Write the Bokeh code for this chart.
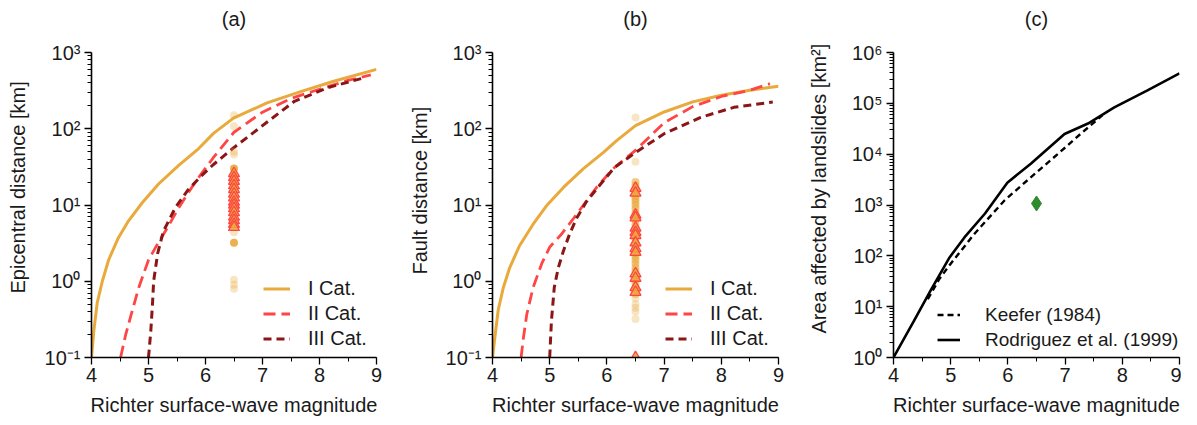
from bokeh.plotting import figure
from bokeh.layouts import row
from bokeh.models import (Range1d, SingleIntervalTicker, FixedTicker, CustomJSTickFormatter,
                          Legend, LegendItem, Title)
from bokeh.embed import file_html
from bokeh.resources import INLINE

FONT = "Liberation Sans"
C_I = "#E9A93B"
C_II = "#FF4545"
C_III = "#8B1616"
C_GREEN = "#2E8B2E"
TXT = "#1a1a1a"

# ---------------- data ----------------
# (a) epicentral distance [km]
a_mag_I = [4.0, 4.04, 4.1, 4.19, 4.3, 4.47, 4.65, 4.89, 5.18, 5.53, 5.88, 6.14, 6.49, 7.08, 7.67, 8.25, 9.0]
a_dist_I = [0.1, 0.22, 0.52, 1.0, 1.9, 3.7, 6.2, 10.7, 19, 33, 55, 87, 138, 218, 307, 420, 600]
a_mag_II = [4.51, 4.6, 4.68, 4.83, 5.0, 5.16, 5.33, 5.53, 5.82, 6.14, 6.5, 7.0, 7.5, 8.0, 8.5, 8.9]
a_dist_II = [0.1, 0.2, 0.33, 0.83, 1.9, 3.1, 5.0, 9.2, 20, 42, 90, 165, 250, 330, 430, 510]
a_mag_III = [5.0, 5.04, 5.07, 5.09, 5.16, 5.26, 5.47, 5.7, 5.95, 6.14, 6.49, 6.98, 7.56, 8.15, 8.8]
a_dist_III = [0.1, 0.22, 0.5, 1.0, 2.3, 4.5, 9.2, 16, 25, 34, 56, 107, 229, 347, 470]

# (b) fault distance [km]
b_mag_I = [4.0, 4.04, 4.1, 4.19, 4.3, 4.47, 4.71, 4.94, 5.24, 5.59, 5.94, 6.17, 6.5, 7.0, 7.5, 8.0, 8.5, 9.0]
b_dist_I = [0.1, 0.18, 0.42, 0.83, 1.5, 2.9, 5.6, 9.7, 17, 30, 49, 70, 110, 166, 225, 275, 320, 360]
b_mag_II = [4.5, 4.54, 4.6, 4.71, 4.86, 5.0, 5.2, 5.42, 5.59, 5.82, 6.11, 6.5, 7.0, 7.5, 8.0, 8.5, 8.85]
b_dist_II = [0.1, 0.18, 0.37, 0.83, 1.7, 2.8, 4.1, 6.7, 10, 17, 30, 52, 120, 195, 265, 320, 390]
b_mag_III = [5.0, 5.03, 5.08, 5.15, 5.24, 5.35, 5.47, 5.64, 5.87, 6.13, 6.47, 7.0, 7.64, 8.22, 8.9]
b_dist_III = [0.1, 0.3, 0.83, 1.5, 2.5, 4.2, 6.7, 11, 18, 31, 47, 86, 141, 191, 224]

# events (all M = 6.5)
ev_mag = 6.5
a_ev_faint = [150, 108, 50, 46, 4.4, 1.05, 0.9, 0.8]
a_ev_solid = [30, 3.2, 24, 19, 15, 12, 9.5, 7.5, 6]
a_ev_tri = [26, 23, 20.5, 18, 16, 14, 12.5, 11, 10, 9, 8, 7, 6.3, 5.6, 5.1]
b_ev_faint = [140, 37, 0.6, 0.5, 0.45, 0.4, 0.32]
b_ev_mid = [20, 18, 16, 15, 13, 12, 11, 10, 9, 8, 7, 6.3, 5.6, 5, 4.5, 4, 3.6, 3.2, 2.9, 2.6,
            2.3, 2.1, 1.9, 1.7, 1.5, 1.35, 1.2, 1.05, 0.95, 0.85, 0.75, 0.68]
b_ev_tri = [16.6, 14.4, 7.4, 6.8, 5.0, 4.4, 4.0, 3.2, 2.7, 2.4, 1.26, 1.1, 0.83, 0.72, 0.1]

# (c) area affected by landslides [km2]
c_mag_rod = [4.0, 4.36, 4.65, 4.98, 5.24, 5.6, 5.99, 6.4, 6.99, 7.4, 7.86, 8.44, 9.0]
c_area_rod = [1, 5.3, 21, 93, 230, 680, 2750, 6500, 25000, 40000, 83000, 180000, 390000]
c_mag_kee = [4.6, 4.8, 5.0, 5.42, 5.94, 6.4, 6.87, 7.27, 7.65]
c_area_kee = [14, 35, 70, 275, 1230, 3500, 10000, 25000, 58000]
c_ev_area = [1070]

exps_ab = [-1, 0, 1, 2, 3]
exps_c = [0, 1, 2, 3, 4, 5, 6]

SUP = CustomJSTickFormatter(code="""
const s = {'0':'\u2070','1':'\u00b9','2':'\u00b2','3':'\u00b3','4':'\u2074','5':'\u2075',
           '6':'\u2076','7':'\u2077','8':'\u2078','9':'\u2079','-':'\u207b'};
const e = Math.round(Math.log10(tick));
return '10' + String(e).split('').map(c => s[c]).join('');
""")

H = 420
TOP = 52
FRAME_H = 305


def make_fig(title, ylabel, exps, w, left, right, y_off, y_standoff):
    p = figure(width=w, height=H, y_axis_type="log",
               x_range=Range1d(4, 9), y_range=Range1d(10 ** exps[0], 10 ** exps[-1]),
               output_backend="svg", toolbar_location=None,
               min_border_left=left, min_border_right=right,
               min_border_top=TOP, min_border_bottom=H - TOP - FRAME_H)
    # a trailing empty line lifts the panel title to the top of the margin
    p.title.text = title + "\n"
    p.title.align = "center"
    p.title.text_font = FONT
    p.title.text_font_size = "20px"
    p.title.text_font_style = "normal"
    p.title.text_color = TXT
    p.title.standoff = 2
    p.outline_line_color = None
    p.grid.visible = False
    p.background_fill_color = "white"
    p.xaxis.ticker = SingleIntervalTicker(interval=1, num_minor_ticks=2)
    p.yaxis.ticker = FixedTicker(ticks=[10.0 ** e for e in exps],
                                 minor_ticks=[m * 10.0 ** e for e in exps[:-1] for m in range(2, 10)])
    p.yaxis.formatter = SUP
    p.xaxis.axis_label = "Richter surface-wave magnitude"
    for ax in (p.xaxis, p.yaxis):
        ax.axis_line_width = 1.6
        ax.axis_line_color = "black"
        ax.major_tick_line_color = "black"
        ax.minor_tick_line_color = "black"
        ax.major_tick_line_width = 1.3
        ax.minor_tick_line_width = 1.0
        ax.major_tick_out = 7
        ax.major_tick_in = 0
        ax.minor_tick_out = 4
        ax.minor_tick_in = 0
        ax.major_label_text_font = FONT
        ax.major_label_text_font_size = "20px"
        ax.major_label_text_color = TXT
        ax.axis_label_text_font = FONT
        ax.axis_label_text_font_size = "20px"
        ax.axis_label_text_font_style = "normal"
        ax.axis_label_text_color = TXT
    p.xaxis.major_label_standoff = 3
    p.xaxis.axis_label_standoff = 9
    p.yaxis.major_label_standoff = 4
    # y-axis title as a side title (sits slightly above the frame centre, as in the original)
    p.add_layout(Title(text=ylabel + "\n", align="left", offset=y_off, standoff=y_standoff,
                       text_font=FONT, text_font_size="20px", text_font_style="normal",
                       text_color=TXT), "left")
    return p


def legend(p, items, loc, gw, standoff, fs="20px"):
    lg = Legend(items=[LegendItem(label=l, renderers=[r]) for l, r in items],
                location=loc, background_fill_alpha=0, border_line_alpha=0,
                padding=0, margin=0, spacing=0, glyph_width=gw, glyph_height=25,
                label_height=25, label_standoff=standoff,
                label_text_font=FONT, label_text_font_size=fs, label_text_color=TXT)
    p.add_layout(lg)


def distance_panel(title, ylabel, w, left, right, y_off, y_so, mI, dI, mII, dII, mIII, dIII):
    p = make_fig(title, ylabel, exps_ab, w, left, right, y_off, y_so)
    r1 = p.line(mI, dI, line_color=C_I, line_width=3)
    r2 = p.line(mII, dII, line_color=C_II, line_width=2.8, line_dash="12 6")
    r3 = p.line(mIII, dIII, line_color=C_III, line_width=3, line_dash="8 5")
    return p, (r1, r2, r3)


# (a)
pa, (a1, a2, a3) = distance_panel("(a)", "Epicentral distance [km]", 400, 91, 24, 64, -18,
                                  a_mag_I, a_dist_I, a_mag_II, a_dist_II, a_mag_III, a_dist_III)
pa.scatter([ev_mag] * len(a_ev_faint), a_ev_faint, marker="circle", size=8,
           fill_color=C_I, fill_alpha=0.3, line_color=None)
pa.scatter([ev_mag] * len(a_ev_solid), a_ev_solid, marker="circle", size=8,
           fill_color=C_I, fill_alpha=0.9, line_color=None)
pa.scatter([ev_mag] * len(a_ev_tri), a_ev_tri, marker="triangle", size=11,
           fill_color=C_I, fill_alpha=0.9, line_color=C_II, line_width=1.3)
legend(pa, [("I Cat.", a1), ("II Cat.", a2), ("III Cat.", a3)], (172, 6), 27, 18)

# (b)
pb, (b1, b2, b3) = distance_panel("(b)", "Fault distance [km]", 398, 92, 20, 83, -20,
                                  b_mag_I, b_dist_I, b_mag_II, b_dist_II, b_mag_III, b_dist_III)
pb.scatter([ev_mag] * len(b_ev_faint), b_ev_faint, marker="circle", size=8,
           fill_color=C_I, fill_alpha=0.3, line_color=None)
pb.scatter([ev_mag] * len(b_ev_mid), b_ev_mid, marker="circle", size=8,
           fill_color=C_I, fill_alpha=0.6, line_color=None)
pb.scatter([ev_mag] * len(b_ev_tri), b_ev_tri, marker="triangle", size=11,
           fill_color=C_I, fill_alpha=0.9, line_color=C_II, line_width=1.3)
legend(pb, [("I Cat.", b1), ("II Cat.", b2), ("III Cat.", b3)], (173, 6), 27, 18)

# (c)
pc = make_fig("(c)", "Area affected by landslides [km\u00b2]", exps_c, 383, 95, 2, 24, -6)
k = pc.line(c_mag_kee, c_area_kee, line_color="black", line_width=2.4, line_dash="6 4")
rd = pc.line(c_mag_rod, c_area_rod, line_color="black", line_width=2.6)
pc.scatter([ev_mag], c_ev_area, marker="diamond", size=15, fill_color=C_GREEN, line_color=C_GREEN)
legend(pc, [("Keefer (1984)", k), ("Rodriguez et al. (1999)", rd)], (44, 5), 23, 25, "19px")

layout = row(pa, pb, pc)
open("out.html", "w").write(file_html(layout, INLINE))
